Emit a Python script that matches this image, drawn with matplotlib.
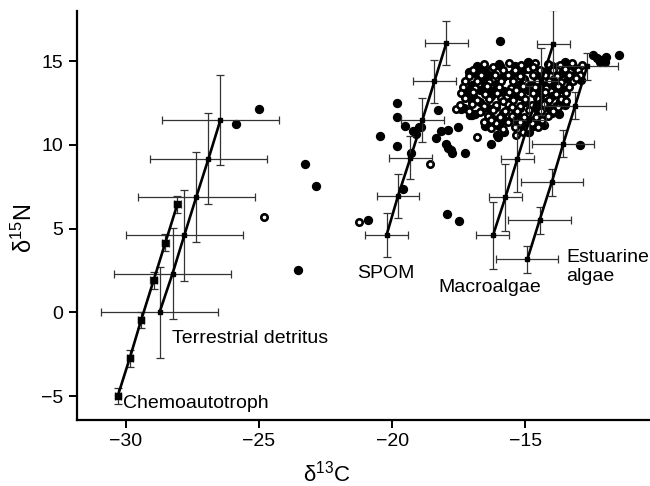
import matplotlib
matplotlib.use("Agg")
import matplotlib.pyplot as plt
import numpy as np

plt.rcParams['font.family'] = ['Liberation Sans', 'DejaVu Sans']

# source lines: (d13C, d15N) per trophic step, with error bars
chemo_x = [-30.31, -29.86, -29.43, -28.96, -28.52, -28.07]
chemo_y = [-5.0, -2.74, -0.46, 1.92, 4.17, 6.45]
chemo_xerr = 0.12
chemo_yerr = 0.5

terr_x = [-28.74, -28.25, -27.81, -27.36, -26.9, -26.45]
terr_y = [0.0, 2.32, 4.6, 6.89, 9.18, 11.5]
terr_xerr = 2.2
terr_yerr = 2.7

spom_x = [-20.21, -19.78, -19.31, -18.86, -18.41, -17.96]
spom_y = [4.61, 6.95, 9.24, 11.5, 13.8, 16.1]
spom_xerr = 0.8
spom_yerr = 1.3

macro_x = [-16.21, -15.74, -15.29, -14.84, -14.39, -13.94]
macro_y = [4.6, 6.89, 9.18, 11.5, 13.8, 16.05]
macro_xerr = 0.62
macro_yerr = 2.0

estu_x = [-14.92, -14.46, -14.0, -13.57, -13.12, -12.67]
estu_y = [3.16, 5.5, 7.78, 10.07, 12.35, 14.7]
estu_xerr = 1.17
estu_yerr = 0.8

# consumers, open circles
open_pts = [
    (-24.8, 5.67), (-21.24, 5.4), (-18.56, 8.88), (-17.59, 12.16),
    (-16.82, 10.5), (-15.35, 10.6),
    (-16.55, 14.85), (-15.6, 14.9), (-15.15, 14.8), (-14.65, 14.9), (-14.15, 14.85),
    (-13.7, 14.8), (-13.25, 14.9), (-12.85, 14.75),
    (-16.95, 14.45), (-16.3, 14.55), (-15.85, 14.5), (-15.4, 14.45), (-14.9, 14.55),
    (-14.45, 14.5), (-13.95, 14.45), (-13.5, 14.55), (-13.0, 14.45),
    (-17.1, 14.1), (-16.65, 14.2), (-16.15, 14.15), (-15.65, 14.2), (-15.2, 14.1),
    (-14.7, 14.2), (-14.25, 14.15), (-13.8, 14.1), (-13.35, 14.2), (-12.95, 14.15),
    (-17.25, 13.8), (-16.8, 13.85), (-16.35, 13.75), (-15.9, 13.85), (-15.45, 13.8),
    (-15.0, 13.75), (-14.55, 13.85), (-14.1, 13.8), (-13.65, 13.75), (-13.2, 13.85),
    (-17.35, 13.45), (-16.9, 13.4), (-16.45, 13.5), (-16.0, 13.45), (-15.55, 13.4),
    (-15.1, 13.5), (-14.65, 13.45), (-14.2, 13.4), (-13.75, 13.5), (-13.35, 13.45),
    (-17.4, 13.1), (-16.95, 13.15), (-16.5, 13.05), (-16.05, 13.1), (-15.6, 13.15),
    (-15.15, 13.05), (-14.7, 13.1), (-14.25, 13.15), (-13.85, 13.05), (-13.45, 13.1),
    (-17.25, 12.8), (-16.8, 12.7), (-16.35, 12.75), (-15.9, 12.8), (-15.45, 12.7),
    (-15.0, 12.75), (-14.55, 12.8), (-14.1, 12.7), (-13.65, 12.75),
    (-17.45, 12.4), (-17.0, 12.45), (-16.55, 12.35), (-16.1, 12.4), (-15.65, 12.45),
    (-15.2, 12.35), (-14.75, 12.4), (-14.3, 12.45), (-13.85, 12.35),
    (-17.1, 12.0), (-16.65, 12.05), (-16.2, 12.1), (-15.75, 12.0),
    (-15.3, 12.05), (-14.85, 12.1), (-14.4, 12.0), (-13.95, 12.05),
    (-16.7, 11.95), (-16.4, 11.75), (-15.95, 11.7), (-15.5, 11.75), (-15.05, 11.65),
    (-14.6, 11.7), (-14.15, 11.75),
    (-16.55, 11.35), (-16.1, 11.3), (-15.65, 11.4), (-15.2, 11.35), (-14.75, 11.3),
    (-14.35, 11.4),
    (-16.3, 11.0), (-15.85, 10.95), (-15.4, 11.05), (-14.95, 11.0), (-14.5, 11.05),
    (-16.2, 14.65), (-14.7, 14.65), (-13.1, 14.0), (-15.35, 13.3), (-15.85, 12.6),
    (-13.45, 12.6), (-15.5, 12.25), (-13.75, 12.25), (-16.3, 11.5), (-14.35, 11.5),
    (-15.1, 10.8),
]

# consumers, filled circles
filled_pts = [
    (-25.86, 11.28), (-25.0, 12.17), (-23.29, 8.88), (-22.86, 7.52), (-23.54, 2.52),
    (-20.9, 5.54), (-20.45, 10.55), (-19.82, 12.49), (-19.8, 11.7), (-19.82, 9.91),
    (-19.51, 11.14), (-19.22, 10.86), (-19.09, 10.67), (-19.0, 11.06), (-18.9, 11.06),
    (-19.59, 7.39), (-19.3, 9.54), (-18.28, 12.1), (-18.36, 10.43), (-18.15, 10.82),
    (-17.9, 10.92), (-17.53, 11.1), (-17.96, 10.07), (-17.9, 9.8), (-17.8, 9.67),
    (-17.75, 9.5), (-17.25, 9.54), (-16.99, 11.76), (-17.4, 12.16), (-17.12, 14.34),
    (-17.95, 5.86), (-17.49, 5.44), (-15.94, 16.19), (-16.27, 10.07), (-16.02, 10.5),
    (-14.84, 10.76), (-12.93, 9.97), (-13.74, 11.86),
    (-12.45, 15.39), (-12.1, 15.08), (-11.95, 15.27), (-12.01, 14.93), (-12.2, 14.93),
    (-12.3, 15.2), (-11.46, 15.39),
    (-16.0, 14.85), (-15.96, 14.74), (-14.9, 14.95), (-13.5, 14.95),
    (-16.6, 14.5), (-15.1, 14.45), (-14.2, 14.35), (-16.4, 14.1), (-15.85, 14.05),
    (-14.5, 14.0), (-13.1, 14.3), (-17.0, 13.6), (-16.1, 13.65), (-15.25, 13.6),
    (-14.3, 13.6), (-12.9, 13.9), (-16.7, 13.3), (-15.8, 13.25), (-14.9, 13.3),
    (-13.55, 13.3), (-16.3, 12.95), (-15.45, 12.9), (-14.45, 12.95), (-17.0, 12.6),
    (-15.6, 12.55), (-14.2, 12.55), (-13.7, 12.6), (-16.1, 12.25), (-15.2, 12.2),
    (-13.8, 12.2), (-13.5, 12.4), (-15.85, 11.9), (-14.0, 11.9), (-17.06, 11.76),
    (-16.2, 11.55), (-15.5, 11.55), (-14.6, 11.5), (-16.0, 11.15), (-15.1, 11.15),
    (-14.3, 11.2), (-15.8, 10.8), (-14.9, 10.75), (-16.07, 10.57),
    (-16.8, 14.7), (-15.4, 14.7), (-14.0, 14.7), (-13.2, 14.7),
    (-16.9, 14.3), (-15.45, 14.3), (-13.6, 14.3),
    (-16.6, 13.95), (-15.05, 13.95), (-13.9, 13.95), (-13.4, 13.95),
    (-16.5, 13.6), (-14.75, 13.6), (-13.95, 13.6),
    (-17.2, 13.25), (-16.25, 13.25), (-14.45, 13.25), (-13.8, 13.25),
    (-16.95, 12.9), (-15.2, 12.9), (-14.0, 12.9),
    (-16.7, 12.55), (-15.0, 12.55), (-14.5, 12.55),
    (-17.3, 12.2), (-16.4, 12.2), (-14.6, 12.2), (-14.1, 12.2),
    (-16.9, 11.85), (-15.3, 11.85), (-14.5, 11.85),
    (-15.8, 11.5), (-14.9, 11.5), (-16.5, 11.15), (-14.7, 11.15),
]

labels = ['Chemoautotroph', 'Terrestrial detritus', 'SPOM', 'Macroalgae', 'Estuarine', 'algae']
label_x = [-30.1, -28.28, -21.32, -18.28, -13.46, -13.46]
label_y = [-5.72, -1.85, 2.03, 1.23, 3.02, 1.87]

fig = plt.figure(figsize=(6.5, 4.86), dpi=100)
ax = fig.add_axes([0.1185, 0.1368, 0.8815, 0.8405])

ox, oy = zip(*open_pts)
fx, fy = zip(*filled_pts)
ax.plot(fx, fy, 'o', color='black', ms=5.7, zorder=2)
ax.plot(ox, oy, 'o', mfc='white', mec='black', mew=1.9, ms=4.6, zorder=2)

for xs, ys, xe, ye, ms in [(chemo_x, chemo_y, chemo_xerr, chemo_yerr, 4.2),
                           (terr_x, terr_y, terr_xerr, terr_yerr, 3.5),
                           (spom_x, spom_y, spom_xerr, spom_yerr, 3.5),
                           (macro_x, macro_y, macro_xerr, macro_yerr, 3.5),
                           (estu_x, estu_y, estu_xerr, estu_yerr, 3.5)]:
    ax.errorbar(xs, ys, xerr=xe, yerr=ye, fmt='-s', color='black', lw=1.9, ms=ms,
                ecolor='#333333', elinewidth=0.9, capsize=3, capthick=0.9, zorder=3)

for t, x, y in zip(labels, label_x, label_y):
    ax.text(x, y, t, fontsize=14, ha='left', va='baseline', zorder=4)

ax.set_xlim(-31.84, -10.31)
ax.set_ylim(-6.4, 18.0)
ax.set_xticks([-30, -25, -20, -15])
ax.set_yticks([-5, 0, 5, 10, 15])
ax.spines['top'].set_visible(False)
ax.spines['right'].set_visible(False)
for s in ['left', 'bottom']:
    ax.spines[s].set_linewidth(1.6)
ax.tick_params(direction='out', length=6, width=1.4, labelsize=14, pad=4)

ax.set_xlabel(r'$\mathregular{\delta^{13}C}$', fontsize=16, va='center')
ax.xaxis.set_label_coords(0.436, -0.132)
ax.set_ylabel(r'$\mathregular{\delta^{15}N}$', fontsize=17, va='center')
ax.yaxis.set_label_coords(-0.0925, 0.469)

fig.savefig('out.png', dpi=100)
